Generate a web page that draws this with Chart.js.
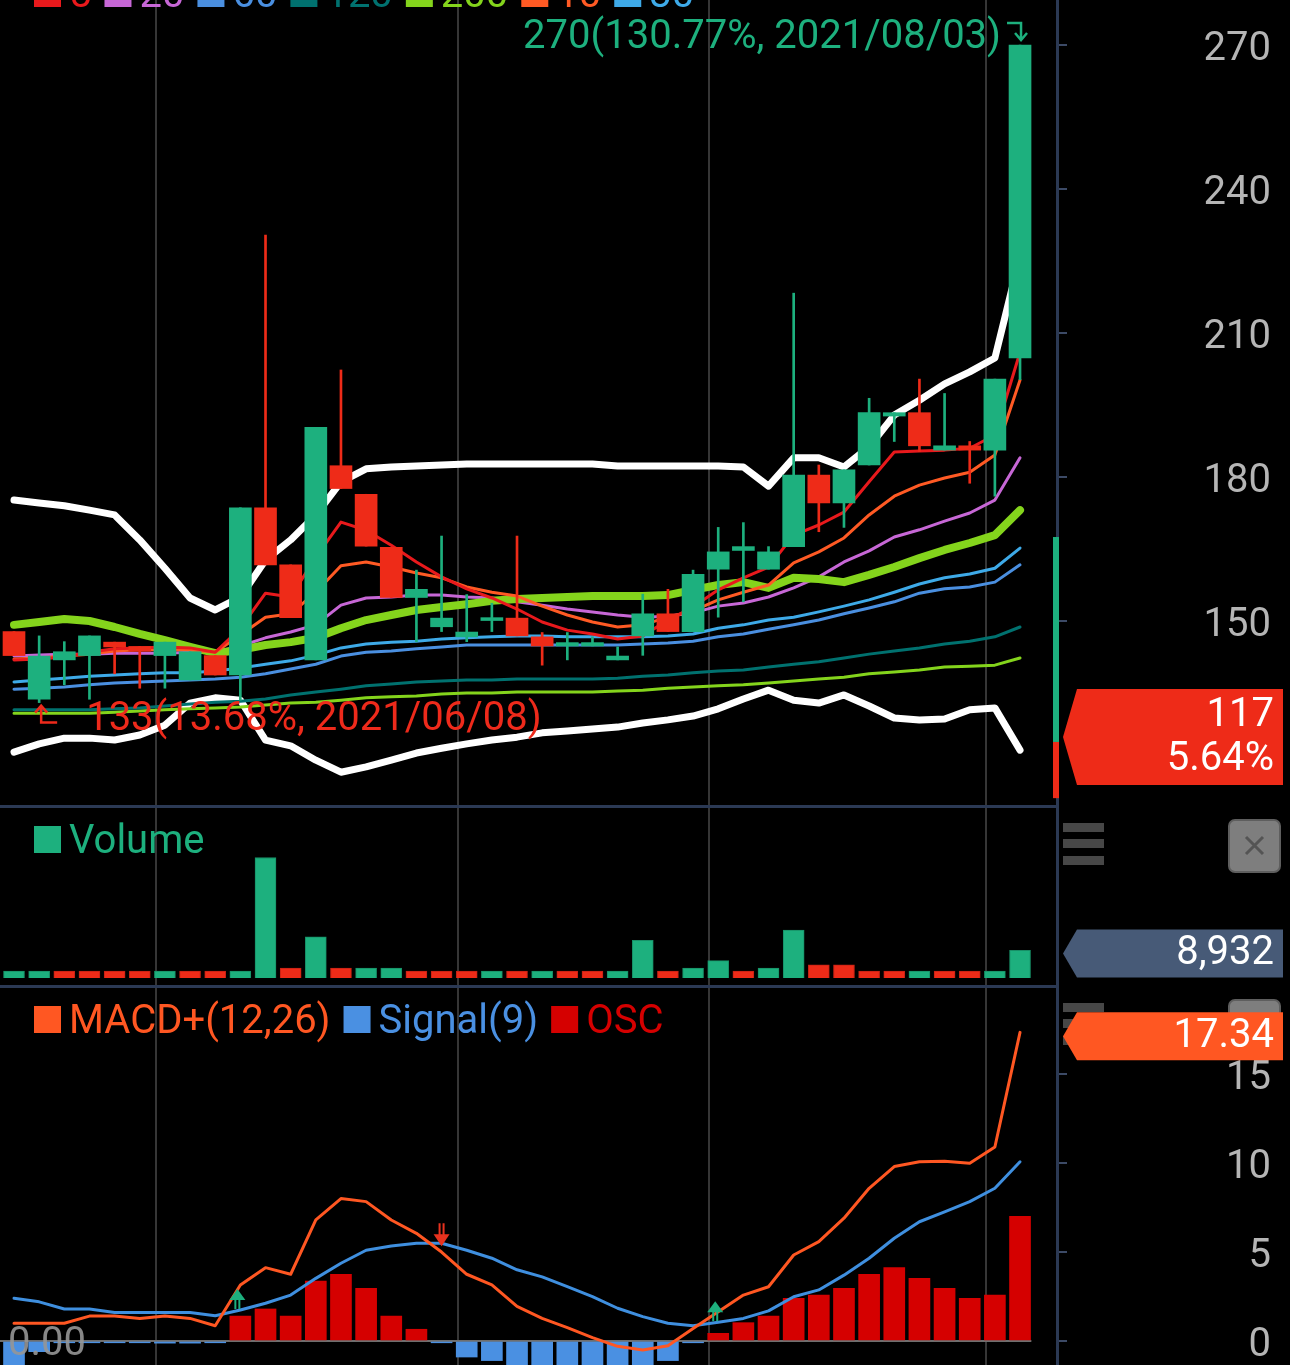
<!DOCTYPE html>
<html>
<head>
<meta charset="utf-8">
<script src="https://cdn.jsdelivr.net/npm/chart.js@4.4.1/dist/chart.umd.min.js"></script>
<style>
  html, body { margin: 0; padding: 0; background: #000; }
  body { width: 1290px; height: 1365px; overflow: hidden; position: relative; }
  canvas { position: absolute; left: 0; display: block; }
  #price { top: 0; }
  #volume { top: 805px; }
  #macd { top: 985px; }
</style>
</head>
<body>
<canvas id="price" width="1290" height="805"></canvas>
<canvas id="volume" width="1290" height="180"></canvas>
<canvas id="macd" width="1290" height="380"></canvas>
<script>
// ---- data ----
var dates = ["2021/06/07", "2021/06/08", "2021/06/09", "2021/06/10", "2021/06/11", "2021/06/14", "2021/06/15",
    "2021/06/16", "2021/06/17", "2021/06/18", "2021/06/21", "2021/06/22", "2021/06/23", "2021/06/24", "2021/06/25",
    "2021/06/28", "2021/06/29", "2021/06/30", "2021/07/01", "2021/07/02", "2021/07/06", "2021/07/07", "2021/07/08",
    "2021/07/09", "2021/07/12", "2021/07/13", "2021/07/14", "2021/07/15", "2021/07/16", "2021/07/19", "2021/07/20",
    "2021/07/21", "2021/07/22", "2021/07/23", "2021/07/26", "2021/07/27", "2021/07/28", "2021/07/29", "2021/07/30",
    "2021/08/02", "2021/08/03"];

var open = [147.8, 133.7, 141.9, 142.8, 145.6, 144.7, 142.8, 137.7, 142.8, 138.75, 173.6, 161.7, 141.9, 182.35, 176.4,
    165.35, 154.9, 148.8, 146.7, 150.1, 150.6, 146.7, 144.8, 144.8, 141.9, 146.9, 151.5, 147.8, 160.8, 164.7, 160.8,
    165.5, 180.4, 174.6, 182.5, 192.7, 193.4, 185.6, 186.5, 185.6, 204.8];
var high = [147.8, 146.9, 145.7, 146.9, 145.6, 144.7, 145.6, 143.6, 142.8, 173.6, 230.4, 161.7, 190.35, 202.3, 176.4,
    165.35, 160.6, 167.7, 155.5, 153.7, 167.7, 147.6, 147.6, 146.7, 144.6, 155.6, 156.6, 160.6, 169.5, 170.5, 165.5,
    218.3, 182.5, 181.5, 196.4, 193.4, 200.4, 197.4, 187.4, 200.4, 270];
var low = [142.8, 133, 136.7, 133.7, 139.0, 136.0, 136.0, 137.7, 138.75, 133.5, 161.7, 150.7, 141.9, 177.6, 165.6,
    154.9, 145.7, 147.8, 145.7, 147.8, 146.9, 140.8, 141.9, 144.8, 141.9, 142.85, 147.8, 147.8, 150.8, 154.0, 160.8,
    165.5, 168.6, 169.5, 182.5, 187.4, 185.3, 185.6, 178.7, 176.0, 200.3];
var close = [142.8, 142.7, 143.6, 146.9, 144.6, 143.7, 145.6, 143.6, 138.75, 173.6, 161.7, 150.7, 190.35, 177.6, 165.6,
    154.9, 156.6, 150.6, 147.7, 150.7, 146.9, 144.8, 145.5, 145.5, 142.7, 151.5, 147.8, 159.7, 164.4, 165.5, 164.4,
    180.4, 174.6, 181.5, 193.4, 193.4, 186.5, 186.5, 185.6, 200.4, 270];

var ma5 = [141.9, 142.1, 142.5, 143.5, 144.2, 144.4, 144.6, 144.4, 143.5, 148.5, 155.8, 155.0, 163.3, 170.6, 168.9,
    165.8, 162.3, 159.2, 156.7, 154.8, 152.5, 149.8, 148.1, 147.3, 146.25, 146.9, 150.2, 152.9, 156.5, 159.0, 161.25,
    167.9, 170.0, 172.7, 179.0, 185.2, 185.4, 185.6, 186.0, 188.75, 206.0];
var ma10 = [142.1, 142.3, 142.7, 143.1, 143.75, 144.0, 144.0, 144.0, 143.5, 147.1, 150.8, 151.5, 156.0, 161.5, 162.3,
    161.25, 160.0, 159.0, 157.1, 156.0, 155.2, 153.1, 151.25, 149.8, 148.75, 149.2, 150.8, 152.1, 154.4, 156.0, 157.5,
    162.1, 164.4, 167.3, 172.1, 176.0, 178.3, 179.8, 181.0, 184.6, 200.2];
var ma20 = [142.7, 142.9, 143.1, 143.1, 143.3, 143.3, 143.3, 143.5, 143.5, 144.8, 146.5, 147.7, 149.2, 153.3, 154.8,
    155.0, 155.4, 155.4, 155.0, 154.8, 154.0, 153.3, 152.5, 151.9, 151.25, 150.8, 151.0, 151.7, 153.1, 153.75, 155.0,
    156.9, 159.2, 162.3, 164.6, 167.5, 169.0, 170.8, 172.5, 175.2, 184.0];
var ma30 = [137.3, 137.7, 138.1, 138.5, 138.75, 139.0, 139.2, 139.2, 139.6, 140.2, 141.0, 141.7, 142.9, 144.4, 145.2,
    145.6, 145.8, 146.25, 146.5, 146.7, 146.9, 146.9, 146.7, 146.7, 146.7, 146.7, 146.9, 147.3, 148.5, 149.2, 150.2,
    150.8, 151.9, 153.1, 154.4, 156.0, 157.7, 159.0, 159.8, 161.0, 165.2];
var ma60 = [135.8, 136.0, 136.25, 136.7, 137.1, 137.3, 137.5, 137.7, 137.9, 138.3, 139.0, 140.0, 141.0, 142.7, 143.5,
    143.75, 144.2, 144.6, 145.0, 145.0, 145.0, 145.0, 145.0, 145.0, 145.0, 145.2, 145.4, 145.8, 146.7, 147.3, 148.3,
    149.2, 150.2, 151.5, 152.7, 154.0, 155.8, 156.7, 157.1, 158.1, 161.7];
var ma120 = [131.5, 131.5, 131.5, 131.5, 131.7, 131.9, 132.3, 132.7, 133.1, 133.3, 133.75, 134.6, 135.2, 135.8, 136.5,
    136.9, 137.3, 137.5, 137.7, 137.7, 137.9, 137.9, 137.9, 137.9, 138.1, 138.5, 138.75, 139.2, 139.6, 139.8, 140.4,
    141.0, 141.5, 142.3, 143.1, 143.75, 144.4, 145.2, 145.8, 146.7, 148.75];
var ma200 = [130.8, 130.8, 130.8, 130.8, 131.0, 131.25, 131.5, 131.7, 131.9, 132.1, 132.5, 132.9, 133.1, 133.5, 134.0,
    134.2, 134.4, 134.8, 135.0, 135.0, 135.2, 135.2, 135.2, 135.2, 135.4, 135.6, 136.0, 136.25, 136.5, 136.7, 137.1,
    137.5, 137.9, 138.3, 139.0, 139.4, 139.8, 140.4, 140.6, 140.8, 142.3];

var bbUpper = [175.2, 174.6, 174.0, 173.1, 172.1, 166.9, 161.0, 154.8, 152.3, 155.0, 162.7, 166.9, 172.1, 179.0, 181.7,
    182.1, 182.3, 182.5, 182.7, 182.7, 182.7, 182.7, 182.7, 182.7, 182.3, 182.3, 182.3, 182.3, 182.3, 182.1, 178.1,
    184.0, 184.0, 182.1, 186.3, 192.9, 196.0, 199.4, 201.9, 204.8, 226.0];
var bbMiddle = [149.2, 149.8, 150.4, 150.0, 148.75, 147.3, 146.0, 144.6, 143.3, 144.0, 145.0, 145.6, 146.5, 148.5, 150.2,
    151.25, 152.3, 152.9, 153.5, 154.2, 154.6, 154.8, 155.0, 155.2, 155.2, 155.2, 155.4, 156.5, 157.5, 158.1, 156.9,
    159.0, 158.75, 158.1, 159.6, 161.25, 163.1, 164.8, 166.25, 167.9, 173.1];
var bbLower = [122.7, 124.4, 125.6, 125.6, 125.2, 126.25, 128.3, 132.9, 134.0, 133.5, 125.2, 124.0, 121.0, 118.5, 119.6,
    121.0, 122.5, 123.5, 124.4, 125.2, 125.8, 126.7, 127.1, 127.5, 127.9, 128.75, 129.4, 130.2, 131.7, 133.75, 135.6,
    133.5, 132.9, 134.6, 132.3, 129.8, 129.4, 129.6, 131.5, 131.9, 123.1];

var volume = [2200, 2200, 2200, 2200, 2200, 2200, 2200, 2200, 2200, 2200, 39000, 3200, 13300, 3200, 3200, 3200, 2200,
    2200, 2200, 2200, 2200, 2200, 2200, 2200, 2200, 12200, 2200, 3200, 5600, 2200, 3200, 15500, 4300, 4300, 2200, 2200,
    2200, 2200, 2200, 2200, 8932];
var volumeUp = [1, 1, 0, 0, 0, 0, 1, 0, 0, 1, 1, 0, 1, 0, 1, 1, 0, 0, 0, 1, 0, 1, 0, 0, 1, 1, 0, 1, 1, 0, 1, 1, 0, 0, 0,
    0, 1, 0, 0, 1, 1];

var macd = [1.0, 1.0, 1.0, 1.4, 1.4, 1.27, 1.4, 1.27, 0.86, 3.15, 4.12, 3.75, 6.8, 8.0, 7.83, 6.8, 6.05, 5.0, 3.75, 3.15,
    1.95, 1.27, 0.75, 0.19, -0.3, -0.5, -0.27, 0.7, 1.65, 2.58, 3.05, 4.83, 5.58, 6.9, 8.58, 9.8, 10.07, 10.1, 9.98,
    10.9, 17.34];
var signal = [2.4, 2.2, 1.8, 1.8, 1.6, 1.6, 1.6, 1.6, 1.42, 1.74, 2.12, 2.58, 3.52, 4.37, 5.1, 5.34, 5.49, 5.49, 5.1, 4.65,
    4.0, 3.6, 3.05, 2.49, 1.84, 1.37, 1.0, 0.86, 1.05, 1.27, 1.69, 2.49, 2.87, 3.7, 4.65, 5.77, 6.7, 7.26, 7.83, 8.58,
    10.07];
var osc = [-1.4, -0.6, -0.1, -0.1, -0.1, -0.1, -0.12, -0.12, -0.1, 1.4, 1.8, 1.4, 3.37, 3.75, 2.96, 1.4, 0.66, -0.1, -0.9,
    -1.1, -2.0, -2.3, -2.3, -2.3, -2.1, -1.9, -1.1, -0.1, 0.43, 1.03, 1.4, 2.4, 2.58, 2.96, 3.75, 4.12, 3.52, 2.96, 2.4,
    2.58, 7.0];

var maPeriods = [5, 20, 60, 120, 200, 10, 30];
var priceTicks = [150, 180, 210, 240, 270];
var macdTicks = [0, 5, 10, 15];
var monthLines = ["2021/06/15", "2021/07/01", "2021/07/16", "2021/08/02"];
var crossUp = ["2021/06/18", "2021/07/16"];
var crossDown = ["2021/06/30"];
var highPct = "130.77%";
var lowPct = "13.68%";
var priceTag = ["117", "5.64%"];
var rangeUp = [124.8, 167.5];
var rangeDown = [113.1, 124.8];

// ---- styles ----
var UP = "#1DB07E";
var DOWN = "#EE2B18";
var AXIS = "#2B3954";
var LABEL = "#B5B5B5";
var maColors = { 5: "#E8191C", 10: "#FF5A24", 20: "#C767D6", 30: "#3EAAE8", 60: "#4A8FE0", 120: "#00716F", 200: "#84D41C" };

Chart.defaults.font.family = "Roboto";
Chart.defaults.font.size = 40;
Chart.defaults.animation = false;

var idx = dates.map(function (d, i) { return i; });
function pts(arr) { return arr.map(function (v, i) { return { x: i, y: v }; }); }
var candleColor = idx.map(function (i) { return close[i] >= open[i] ? UP : DOWN; });

function xAxis() {
    return {
        type: "linear", min: -0.557, max: 41.47, offset: false,
        afterFit: function (a) { a.height = 0; a.paddingLeft = 0; a.paddingRight = 0; },
        afterBuildTicks: function (a) {
            a.ticks = monthLines.map(function (d) { return { value: dates.indexOf(d) - 0.35 }; });
        },
        ticks: { display: false },
        border: { display: false },
        grid: { color: "#363636", lineWidth: 2, drawTicks: false, offset: false }
    };
}

function yAxis(min, max, ticks, showLabels) {
    return {
        position: "right", min: min, max: max,
        afterFit: function (a) { a.width = 214; a.paddingTop = 0; a.paddingBottom = 0; },
        afterBuildTicks: function (a) { a.ticks = ticks.map(function (v) { return { value: v }; }); },
        border: { display: true, color: AXIS, width: 3 },
        grid: { drawOnChartArea: false, drawTicks: true, tickLength: 10, color: "#3C4A66", lineWidth: 2 },
        ticks: { display: showLabels, crossAlign: "far", padding: 0, labelOffset: 5, color: LABEL, font: { size: 40 } }
    };
}

function lineSet(data, color, width, order) {
    return {
        type: "line", data: pts(data), borderColor: color, borderWidth: width, pointRadius: 0,
        tension: 0, order: order, borderJoinStyle: "round", borderCapStyle: "round"
    };
}

function drawLegend(ctx, x, baseline, items) {
    ctx.save();
    ctx.font = "40px Roboto";
    ctx.textBaseline = "alphabetic";
    items.forEach(function (it) {
        ctx.fillStyle = it.color;
        ctx.fillRect(x, baseline - 27, 27, 27);
        x += 35;
        ctx.fillText(it.text, x, baseline);
        x += ctx.measureText(it.text).width + 13;
    });
    ctx.restore();
}

function drawTag(ctx, top, bottom, color, lines) {
    var x0 = 1063, x1 = 1283, mid = (top + bottom) / 2;
    ctx.save();
    ctx.beginPath();
    ctx.moveTo(x0 + 14, top);
    ctx.lineTo(x1, top);
    ctx.lineTo(x1, bottom);
    ctx.lineTo(x0 + 14, bottom);
    ctx.lineTo(x0, mid);
    ctx.closePath();
    ctx.fillStyle = color;
    ctx.fill();
    ctx.fillStyle = "#fff";
    ctx.font = "40px Roboto";
    ctx.textAlign = "right";
    ctx.textBaseline = "middle";
    var step = 44;
    lines.forEach(function (t, k) {
        ctx.fillText(t, 1274, mid + (k - (lines.length - 1) / 2) * step + 1);
    });
    ctx.restore();
}

function drawButtons(ctx) {
    ctx.save();
    ctx.fillStyle = "#474747";
    [18, 34, 51].forEach(function (t) { ctx.fillRect(1063, t, 41, 9); });
    ctx.beginPath();
    ctx.roundRect(1229, 15, 51, 52, 6);
    ctx.fillStyle = "#7E7E7E";
    ctx.fill();
    ctx.lineWidth = 2;
    ctx.strokeStyle = "#5E5E5E";
    ctx.stroke();
    ctx.strokeStyle = "#545454";
    ctx.lineWidth = 3;
    ctx.beginPath();
    ctx.moveTo(1246, 32); ctx.lineTo(1263, 49);
    ctx.moveTo(1263, 32); ctx.lineTo(1246, 49);
    ctx.stroke();
    ctx.restore();
}

function topRule(chart) {
    var ctx = chart.ctx, a = chart.chartArea;
    ctx.save();
    ctx.fillStyle = AXIS;
    ctx.fillRect(a.left, 0, a.right - a.left, 3);
    ctx.restore();
}

// ---- price chart ----
var pricePlugin = {
    id: "priceExtras",
    afterDatasetsDraw: function (chart) {
        var ctx = chart.ctx, x = chart.scales.x, y = chart.scales.y;
        var hi = high.indexOf(Math.max.apply(null, high));
        var lo = low.indexOf(Math.min.apply(null, low));
        ctx.save();
        ctx.font = "40px Roboto";
        ctx.textBaseline = "middle";
        ctx.lineWidth = 2.5;
        // highest
        var hx = x.getPixelForValue(hi), hy = y.getPixelForValue(high[hi]);
        ctx.fillStyle = ctx.strokeStyle = UP;
        ctx.textAlign = "right";
        ctx.fillText(high[hi] + "(" + highPct + ", " + dates[hi] + ")", hx - 19, hy - 7);
        ctx.beginPath();
        ctx.moveTo(hx - 13, hy - 22); ctx.lineTo(hx + 1, hy - 22); ctx.lineTo(hx + 1, hy - 5);
        ctx.moveTo(hx - 5, hy - 12); ctx.lineTo(hx + 1, hy - 5); ctx.lineTo(hx + 7, hy - 12);
        ctx.stroke();
        // lowest
        var lx = x.getPixelForValue(lo), ly = y.getPixelForValue(low[lo]);
        ctx.fillStyle = ctx.strokeStyle = "#EE2A1B";
        ctx.textAlign = "left";
        ctx.fillText(low[lo] + "(" + lowPct + ", " + dates[lo] + ")", lx + 47, ly + 17);
        ctx.beginPath();
        ctx.moveTo(lx + 2, ly + 3); ctx.lineTo(lx + 2, ly + 20); ctx.lineTo(lx + 18, ly + 20);
        ctx.moveTo(lx - 4, ly + 10); ctx.lineTo(lx + 2, ly + 3); ctx.lineTo(lx + 8, ly + 10);
        ctx.stroke();
        ctx.restore();
    },
    afterDraw: function (chart) {
        var ctx = chart.ctx, y = chart.scales.y, r = chart.chartArea.right;
        ctx.save();
        ctx.fillStyle = UP;
        ctx.fillRect(r - 4, y.getPixelForValue(rangeUp[1]), 6, y.getPixelForValue(rangeUp[0]) - y.getPixelForValue(rangeUp[1]));
        ctx.fillStyle = DOWN;
        ctx.fillRect(r - 4, y.getPixelForValue(rangeDown[1]), 6, y.getPixelForValue(rangeDown[0]) - y.getPixelForValue(rangeDown[1]));
        ctx.restore();
        drawLegend(ctx, 34, 7, maPeriods.map(function (p) { return { color: maColors[p], text: String(p) }; }));
        drawTag(ctx, 689, 785, DOWN, priceTag);
    }
};

var priceDatasets = [
    { type: "bar", data: idx.map(function (i) { return { x: i, y: [open[i], close[i]] }; }),
      backgroundColor: candleColor, barThickness: 22, grouped: false, order: 0 },
    { type: "bar", data: idx.map(function (i) { return { x: i, y: [low[i], high[i]] }; }),
      backgroundColor: candleColor, barThickness: 2, grouped: false, order: 1 },
    lineSet(ma5, maColors[5], 3, 2),
    lineSet(ma10, maColors[10], 3, 3),
    lineSet(bbMiddle, "#84D41C", 8, 4),
    lineSet(ma20, maColors[20], 3, 5),
    lineSet(ma30, maColors[30], 3, 6),
    lineSet(ma60, maColors[60], 3, 7),
    lineSet(ma120, maColors[120], 3, 8),
    lineSet(ma200, maColors[200], 3, 9),
    lineSet(bbUpper, "#FFFFFF", 7, 10),
    lineSet(bbLower, "#FFFFFF", 7, 10)
];

new Chart(document.getElementById("price"), {
    type: "bar",
    data: { datasets: priceDatasets },
    options: {
        responsive: false, devicePixelRatio: 1, events: [],
        layout: { padding: { left: 0, right: 19, top: 0, bottom: 0 } },
        plugins: { legend: { display: false }, tooltip: { enabled: false } },
        scales: { x: xAxis(), y: yAxis(111.67, 279.375, priceTicks, true) }
    },
    plugins: [pricePlugin]
});

// ---- volume chart ----
new Chart(document.getElementById("volume"), {
    type: "bar",
    data: {
        datasets: [{
            data: pts(volume),
            backgroundColor: volumeUp.map(function (u) { return u ? UP : DOWN; }),
            borderColor: volumeUp.map(function (u) { return u ? "#178F66" : "#C42214"; }),
            borderWidth: 1, barThickness: 21
        }]
    },
    options: {
        responsive: false, devicePixelRatio: 1, events: [],
        layout: { padding: { left: 0, right: 19, top: 0, bottom: 0 } },
        plugins: { legend: { display: false }, tooltip: { enabled: false } },
        scales: { x: xAxis(), y: yAxis(-2265, 55983, [], false) }
    },
    plugins: [{
        id: "volumeExtras",
        afterDraw: function (chart) {
            var ctx = chart.ctx, y = chart.scales.y, last = volume[volume.length - 1];
            topRule(chart);
            drawLegend(ctx, 34, 48, [{ color: UP, text: "Volume" }]);
            drawButtons(ctx);
            var c = y.getPixelForValue(last) + 3;
            drawTag(ctx, c - 24, c + 24, "#475A77", [last.toLocaleString("en-US")]);
        }
    }]
});

// ---- MACD chart ----
new Chart(document.getElementById("macd"), {
    type: "bar",
    data: {
        datasets: [
            lineSet(macd, "#FF5722", 3, 0),
            lineSet(signal, "#3F8FDF", 3, 1),
            { type: "bar", data: pts(osc), order: 2, barThickness: 21,
              backgroundColor: osc.map(function (v) { return v >= 0 ? "#D50000" : "#4A90E2"; }) }
        ]
    },
    options: {
        responsive: false, devicePixelRatio: 1, events: [],
        layout: { padding: { left: 0, right: 19, top: 0, bottom: 0 } },
        plugins: { legend: { display: false }, tooltip: { enabled: false } },
        scales: { x: xAxis(), y: yAxis(-1.348, 20.0, macdTicks, true) }
    },
    plugins: [{
        id: "macdExtras",
        beforeDatasetsDraw: function (chart) {
            var ctx = chart.ctx, x = chart.scales.x, y = chart.scales.y;
            var y0 = y.getPixelForValue(0);
            ctx.save();
            ctx.strokeStyle = "#6E6E6E";
            ctx.lineWidth = 2;
            ctx.beginPath();
            ctx.moveTo(chart.chartArea.left, y0);
            ctx.lineTo(x.getPixelForValue(dates.length - 1 + 0.45), y0);
            ctx.stroke();
            ctx.restore();
        },
        afterDatasetsDraw: function (chart) {
            var ctx = chart.ctx, x = chart.scales.x, y = chart.scales.y;
            ctx.save();
            ctx.lineWidth = 2;
            crossUp.forEach(function (d) {
                var i = dates.indexOf(d);
                var cx = x.getPixelForValue(i) - 3, sy = y.getPixelForValue(signal[i]);
                ctx.strokeStyle = ctx.fillStyle = UP;
                ctx.beginPath();
                ctx.moveTo(cx - 2, sy - 1); ctx.lineTo(cx - 2, sy - 11);
                ctx.moveTo(cx + 2, sy - 1); ctx.lineTo(cx + 2, sy - 11);
                ctx.stroke();
                ctx.beginPath();
                ctx.moveTo(cx - 8, sy - 10); ctx.lineTo(cx, sy - 21); ctx.lineTo(cx + 8, sy - 10);
                ctx.closePath(); ctx.fill();
            });
            crossDown.forEach(function (d) {
                var i = dates.indexOf(d);
                var cx = x.getPixelForValue(i), sy = y.getPixelForValue(signal[i]);
                ctx.strokeStyle = ctx.fillStyle = "#E8321E";
                ctx.beginPath();
                ctx.moveTo(cx - 2, sy - 20); ctx.lineTo(cx - 2, sy - 8);
                ctx.moveTo(cx + 2, sy - 20); ctx.lineTo(cx + 2, sy - 8);
                ctx.stroke();
                ctx.beginPath();
                ctx.moveTo(cx - 8, sy - 9); ctx.lineTo(cx, sy + 3); ctx.lineTo(cx + 8, sy - 9);
                ctx.closePath(); ctx.fill();
            });
            ctx.font = "40px Roboto";
            ctx.textBaseline = "middle";
            ctx.fillStyle = "rgba(150,150,150,0.9)";
            ctx.fillText("0.00", 8, y.getPixelForValue(0) + 4);
            ctx.restore();
        },
        afterDraw: function (chart) {
            var ctx = chart.ctx, y = chart.scales.y, last = macd[macd.length - 1];
            topRule(chart);
            drawLegend(ctx, 34, 48, [
                { color: "#FF5722", text: "MACD+(12,26)" },
                { color: "#4A90E2", text: "Signal(9)" },
                { color: "#D50000", text: "OSC" }
            ]);
            drawButtons(ctx);
            var c = y.getPixelForValue(last) + 4;
            drawTag(ctx, c - 24, c + 24, "#FF5722", [last.toFixed(2)]);
        }
    }]
});
</script>
</body>
</html>
